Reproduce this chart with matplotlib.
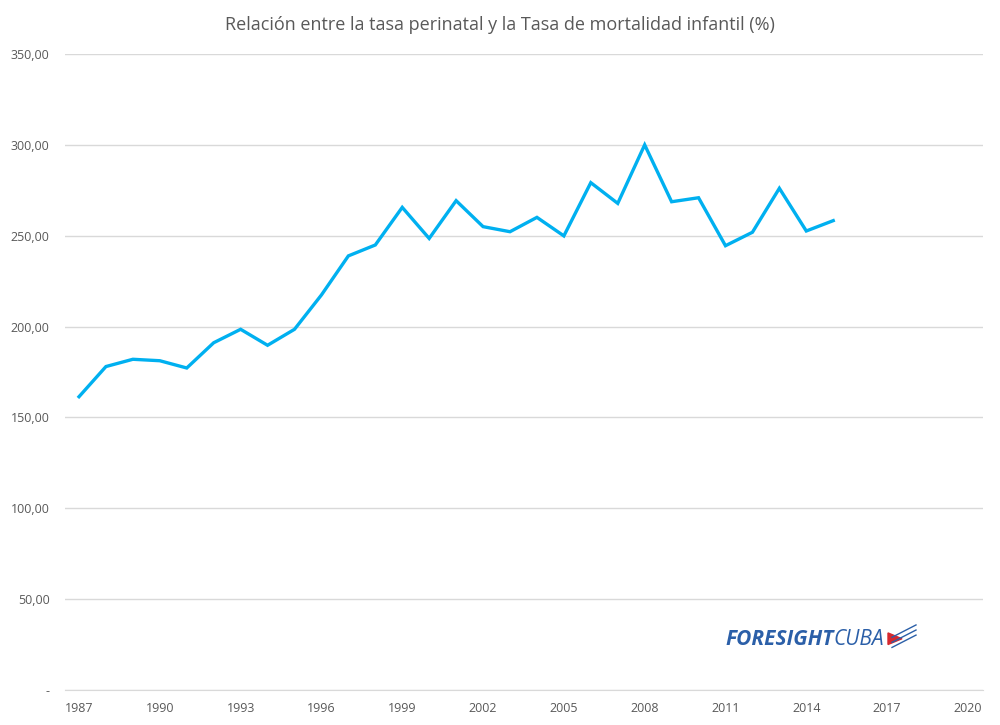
import matplotlib
matplotlib.use("Agg")
import matplotlib.pyplot as plt
from matplotlib.ticker import FuncFormatter

years = list(range(1987, 2016))
ratio = [161.4, 178.0, 182.0, 181.2, 177.2, 191.1, 198.5, 189.7, 198.5, 217.4,
         238.9, 244.9, 265.6, 248.5, 269.3, 255.0, 252.2, 260.1, 249.9, 279.2,
         267.8, 300.0, 268.7, 270.9, 244.5, 251.9, 276.1, 252.6, 258.3]
x_ticks = list(range(1987, 2021, 3))
y_ticks = [0, 50, 100, 150, 200, 250, 300, 350]

title = "Relación entre la tasa perinatal y la Tasa de mortalidad infantil (%)"
txt_color = "#595959"
grid_color = "#d9d9d9"

plt.rcParams['font.family'] = ['Open Sans', 'DejaVu Sans']

fig = plt.figure(figsize=(10, 7.25), dpi=100)
ax = fig.add_axes([0.065, 0.0483, 0.918, 0.8772])

ax.plot(years, ratio, color="#00b0f0", linewidth=2.4, solid_joinstyle="miter")

ax.set_xlim(1986.48, 2020.56)
ax.set_ylim(0, 350)
ax.set_xticks(x_ticks)
ax.set_yticks(y_ticks)

def yfmt(v, pos):
    if v == 0:
        return "-"
    return f"{v:.2f}".replace(".", ",")

ax.yaxis.set_major_formatter(FuncFormatter(yfmt))
ax.grid(axis="y", color=grid_color, linewidth=1)
ax.set_axisbelow(True)
for s in ["top", "right", "left"]:
    ax.spines[s].set_visible(False)
ax.spines["bottom"].set_color(grid_color)
ax.tick_params(axis="both", length=0, labelsize=9, labelcolor=txt_color)
ax.tick_params(axis="x", pad=9)
ax.tick_params(axis="y", pad=11)

fig.text(0.5, 0.965, title, ha="center", va="center", fontsize=13, color=txt_color)

# logo
logo_blue = "#2b5fa8"
t1 = fig.text(0.725, 0.118, "FORESIGHT", fontsize=15, fontweight="bold", style="italic",
              color=logo_blue, ha="left", va="center")
fig.canvas.draw()
bb = t1.get_window_extent()
x2 = bb.x1 / fig.bbox.width
t2 = fig.text(x2, 0.118, "CUBA", fontsize=15, style="italic",
              color=logo_blue, ha="left", va="center")
fig.canvas.draw()
x3 = t2.get_window_extent().x1 / fig.bbox.width + 0.004
fig.patches.append(plt.Polygon([[x3, 0.111], [x3, 0.127], [x3 + 0.014, 0.119]],
                               closed=True, transform=fig.transFigure,
                               color="#d6282e"))
for i in range(3):
    fig.add_artist(plt.Line2D([x3 + 0.004, x3 + 0.028],
                              [0.107 + i * 0.007, 0.124 + i * 0.007],
                              transform=fig.transFigure, color=logo_blue, linewidth=1))

fig.savefig("out.png", dpi=100)
